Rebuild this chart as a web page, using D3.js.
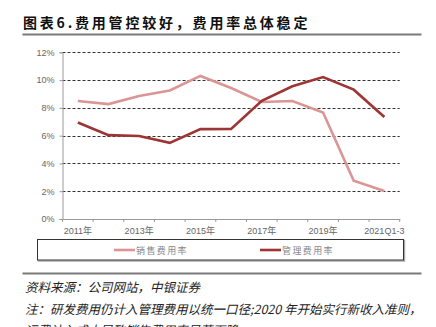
<!DOCTYPE html>
<html><head><meta charset="utf-8">
<script src="https://cdn.jsdelivr.net/npm/d3@7"></script>
<style>
html,body{margin:0;padding:0;background:#fff;}
svg{display:block;}
</style></head>
<body>
<svg id="chart" width="436" height="327"></svg>
<script>
const categories = ["2011","2012","2013","2014","2015","2016","2017","2018","2019","2020","2021Q1-3"];
const tickLabels = ["2011年","","2013年","","2015年","","2017年","","2019年","","2021Q1-3"];
const salesRate = [8.5, 8.27, 8.85, 9.25, 10.3, 9.43, 8.42, 8.49, 7.67, 2.76, 2.02];
const adminRate = [6.95, 6.04, 5.98, 5.48, 6.47, 6.49, 8.51, 9.55, 10.22, 9.31, 7.34];
const yTicks = [0, 2, 4, 6, 8, 10, 12];
const seriesNames = ["销售费用率", "管理费用率"];
const colors = ["#DC9595", "#9E3434"];

(function(){
const svg = d3.select("#chart");
const mLeft = 62.5, mRight = 399.7, mTop = 52.3, mBottom = 219;

const x = d3.scaleBand().domain(categories).range([mLeft, mRight]).padding(0);
const y = d3.scaleLinear().domain([0, 12]).range([mBottom, mTop]);

// Title
svg.append("text").attr("x", 23).attr("y", 27.5)
  .attr("font-family", "'Noto Sans CJK SC', sans-serif").attr("font-weight", "bold")
  .attr("font-size", 14).attr("letter-spacing", 2.8).attr("fill", "#111")
  .text("图表6.费用管控较好，费用率总体稳定");
svg.append("line").attr("x1", 22.5).attr("x2", 421.5).attr("y1", 34.5).attr("y2", 34.5)
  .attr("stroke", "#7a7a7a").attr("stroke-width", 2);

// Gridlines
svg.append("g").selectAll("line").data(yTicks.filter(d => d > 0)).join("line")
  .attr("x1", mLeft).attr("x2", mRight)
  .attr("y1", d => Math.round(y(d)) + 0.5).attr("y2", d => Math.round(y(d)) + 0.5)
  .attr("stroke", "#333").attr("stroke-width", 1).attr("stroke-dasharray", "3,2");

// Y axis
const yAxis = d3.axisLeft(y).tickValues(yTicks).tickFormat(d => d + "%").tickSize(3).tickPadding(5);
const gy = svg.append("g").attr("transform", `translate(${mLeft},0)`).call(yAxis);
gy.select(".domain").attr("stroke", "#999");
gy.selectAll(".tick line").attr("stroke", "#999");
gy.selectAll(".tick text").attr("font-family", "'Liberation Sans', Arial, sans-serif")
  .attr("font-size", 9).attr("fill", "#666");

// X axis
const xAxis = d3.axisBottom(x).tickFormat((d, i) => tickLabels[i]).tickSize(0).tickPadding(9);
const gx = svg.append("g").attr("transform", `translate(0,${mBottom})`).call(xAxis);
gx.select(".domain").attr("stroke", "#999");
gx.selectAll(".tick text").attr("font-family", "'Liberation Sans', 'Noto Sans CJK SC', sans-serif")
  .attr("font-size", 9).attr("fill", "#666");
const boundaries = categories.map(c => x(c)).concat([x.range()[1]]);
gx.append("g").selectAll("line").data(boundaries).join("line")
  .attr("x1", d => d).attr("x2", d => d).attr("y1", 0).attr("y2", 3)
  .attr("stroke", "#999");

// Lines
const line = d3.line().x((d, i) => x(categories[i]) + x.bandwidth() / 2).y(d => y(d));
[salesRate, adminRate].forEach((s, k) => {
  svg.append("path").datum(s).attr("d", line).attr("fill", "none")
    .attr("stroke", colors[k]).attr("stroke-width", 2.6).attr("stroke-linejoin", "miter");
});

// Legend box
svg.append("rect").attr("x", 38.5).attr("y", 240.5).attr("width", 366).attr("height", 20.5)
  .attr("fill", "none").attr("stroke", "#aaa").attr("stroke-width", 1.5);
svg.append("rect").attr("x", 37.5).attr("y", 239.5).attr("width", 366).attr("height", 20.5)
  .attr("fill", "#fff").attr("stroke", "#333").attr("stroke-width", 1);
const legX = [114, 260];
seriesNames.forEach((n, k) => {
  svg.append("line").attr("x1", legX[k]).attr("x2", legX[k] + 21).attr("y1", 250).attr("y2", 250)
    .attr("stroke", colors[k]).attr("stroke-width", 2.6);
  svg.append("text").attr("x", legX[k] + 22).attr("y", 253.5)
    .attr("font-family", "'Noto Sans CJK SC', sans-serif").attr("font-size", 9)
    .attr("letter-spacing", 1.4).attr("fill", "#888").text(n);
});

// Footer
svg.append("line").attr("x1", 22.5).attr("x2", 421.5).attr("y1", 273.5).attr("y2", 273.5)
  .attr("stroke", "#7a7a7a").attr("stroke-width", 2);
const footer = [
  "资料来源：公司网站，中银证券",
  "注：研发费用仍计入管理费用以统一口径;2020 年开始实行新收入准则，",
  "运费计入成本导致销售费用率显著下降"
];
footer.forEach((t, i) => {
  svg.append("text").attr("x", 25).attr("y", 292 + i * 21.5)
    .attr("font-family", "'Noto Sans CJK SC', sans-serif").attr("font-size", 12.5)
    .attr("font-style", "italic").attr("fill", "#222").text(t);
});
})();
</script>
</body></html>
